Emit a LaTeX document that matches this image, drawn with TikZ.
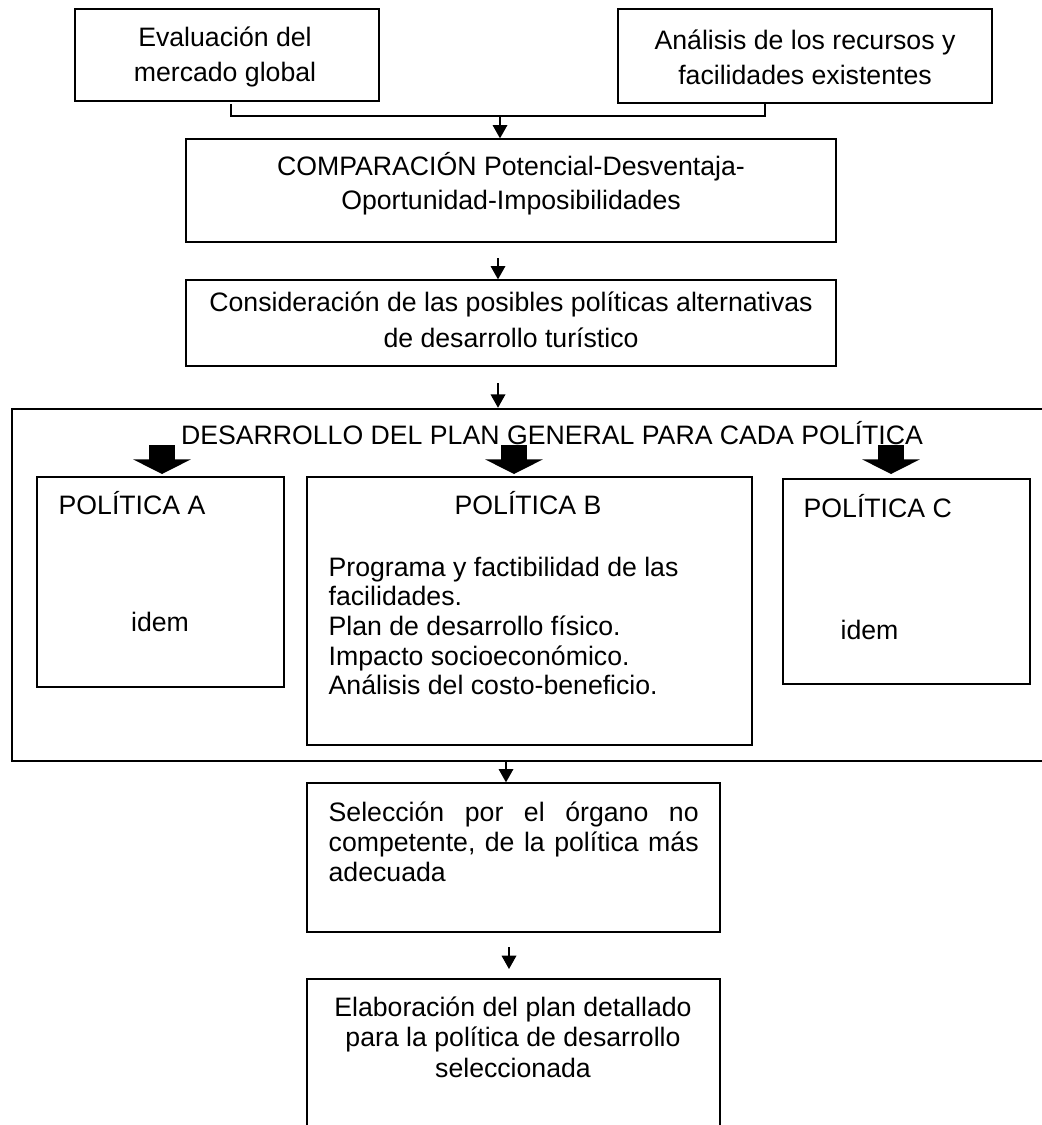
\documentclass[tikz,border=0pt]{standalone}
\usepackage{fontspec}
\setmainfont{Liberation Sans}
\usetikzlibrary{arrows.meta,fit}

\tikzset{every picture/.style={line width=1pt}}
\tikzset{
  box/.style={draw, rectangle, inner sep=0pt},
  txt/.style={inner sep=0pt, align=center, font=\fontsize{20}{26}\selectfont},
  arr/.style={-{Triangle[length=10pt,width=11pt]}},
  fatarr/.style={line width=20pt, -{Triangle[length=11pt,width=43pt]}},
}

\begin{document}
\begin{tikzpicture}[x=0.75pt,y=0.75pt,yscale=-1,xscale=1]
\clip (0,0) rectangle (1042,1125);

%Boxes
\node [box, fit={(75,9) (379,101)}] (eval) {};
\node [box, fit={(618,9) (992,103)}] (anal) {};
\node [box, fit={(186,139) (836,242)}] (comp) {};
\node [box, fit={(186,280) (836,366)}] (cons) {};
\node [box, line width=1.9pt, fit={(12,409) (1080,761)}] (plan) {};
\node [box, fit={(37,477) (284,687)}] (polA) {};
\node [box, fit={(307,477) (752,745)}] (polB) {};
\node [box, fit={(783,479) (1030,684)}] (polC) {};
\node [box, fit={(307,783) (720,932)}] (sele) {};
\node [box, fit={(307,979) (720,1160)}] (elab) {};

%Straight Lines
\coordinate (join) at (500,116);
\draw (231,104) |- (join) -| (765,104);
\draw [arr] (join) -- (comp.north -| join);
\draw [arr] (498,258) -- (cons.north -| 498,0);
\draw [arr] (498,383) -- (plan.north -| 498,0);
\draw [arr] (plan.south -| 506,0) -- (sele.north -| 506,0);
\draw [arr] (509,947) -- (509,969);

%Block Arrows
\draw [fatarr] (162,445) -- (162,474);
\draw [fatarr] (514,445) -- (514,474);
\draw [fatarr] (891,445) -- (891,474);

% Text Node
\node [txt, font=\fontsize{20}{26.25}\selectfont] (teval) at (225,57) {Evaluación del\\mercado global};
% Text Node
\node [txt, font=\fontsize{20}{26.25}\selectfont] (tanal) at (805,57) {Análisis de los recursos y\\facilidades existentes};
% Text Node
\node [txt, font=\fontsize{20}{25.5}\selectfont] (tcomp) at (511,184) {COMPARACIÓN Potencial-Desventaja-\\Oportunidad-Imposibilidades};
% Text Node
\node [txt, font=\fontsize{20}{27}\selectfont] (tcons) at (511,320) {Consideración de las posibles políticas alternativas\\de desarrollo turístico};
% Text Node
\node [txt] (tplan) at (552,433) {DESARROLLO DEL PLAN GENERAL PARA CADA POLÍTICA};
% Text Node
\node [txt, anchor=west] (tpolA) at (58,503) {POLÍTICA A};
% Text Node
\node [txt] (idemA) at (160,622) {idem};
% Text Node
\node [txt] (tpolB) at (528,503) {POLÍTICA B};
% Text Node
\node [txt, anchor=west, align=left, font=\fontsize{20}{22.2}\selectfont] (listB) at (328,626) {Programa y factibilidad de las\\facilidades.\\Plan de desarrollo físico.\\Impacto socioeconómico.\\Análisis del costo-beneficio.};
% Text Node
\node [txt, anchor=west] (tpolC) at (803,506) {POLÍTICA C};
% Text Node
\node [txt, anchor=west] (idemC) at (840,630) {idem};
% Text Node
\node [txt, anchor=west, align=left, font=\fontsize{20}{22.5}\selectfont] (tsele) at (328,842) {\hbox to 277.5pt{Selección\hfill por\hfill el\hfill órgano\hfill no}\\\hbox to 277.5pt{competente,\hfill de\hfill la\hfill política\hfill más}\\adecuada};
% Text Node
\node [txt, font=\fontsize{20}{23}\selectfont] (telab) at (513,1037) {Elaboración del plan detallado\\para la política de desarrollo\\seleccionada};

\end{tikzpicture}
\end{document}
